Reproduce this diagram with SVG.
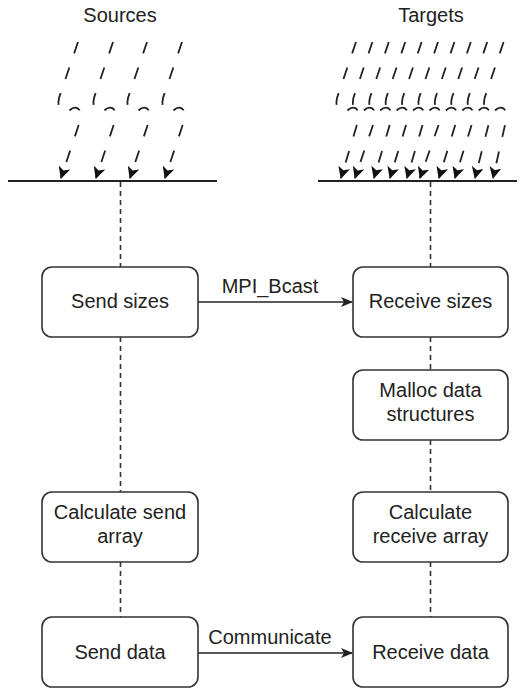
<svg xmlns="http://www.w3.org/2000/svg" width="523" height="689" viewBox="0 0 523 689">
  <style>
    .node rect { fill: #ffffff; stroke: #333333; stroke-width: 1.6; }
    .lbl { font-family: "Liberation Sans", Arial, Helvetica, sans-serif; font-size: 20px; fill: #222222; text-anchor: middle; }
    .life { fill: none; stroke: #333333; stroke-width: 1.6; stroke-dasharray: 5 4; }
    .msg { fill: none; stroke: #222222; stroke-width: 1.6; marker-end: url(#head); }
    .rain { fill: none; stroke: #222222; stroke-width: 1.8; stroke-dasharray: 12 15; marker-end: url(#bighead); }
    .base { stroke: #222222; stroke-width: 2; }
  </style>
  <defs>
    <marker id="head" viewBox="0 0 12 10" refX="11" refY="5" markerWidth="12" markerHeight="10" markerUnits="userSpaceOnUse" orient="auto">
      <path d="M0,0 L12,5 L0,10 L3,5 Z" fill="#222222"/>
    </marker>
    <marker id="bighead" viewBox="0 0 12 12" refX="11" refY="6" markerWidth="12" markerHeight="12" markerUnits="userSpaceOnUse" orient="auto">
      <path d="M0,0 L12,6 L0,12 L3,6 Z" fill="#111111"/>
    </marker>
  </defs>

  <rect width="523" height="689" fill="#ffffff"/>

  <!-- column headings -->
  <g id="heading-sources"><text class="lbl" x="120" y="22">Sources</text></g>
  <g id="heading-targets"><text class="lbl" x="431" y="22">Targets</text></g>

  <g id="connectors">
    <!-- incoming streams onto the source bar -->
    <g id="source-streams">
      <path class="rain" d="M78,42 L59,98 C56,112 66,114 70,110 C75,105 82,108 81,118 L61,178"/>
      <path class="rain" d="M113,42 L94,98 C91,112 101,114 105,110 C110,105 117,108 116,118 L96,178"/>
      <path class="rain" d="M147,42 L128,98 C125,112 135,114 139,110 C144,105 151,108 150,118 L130,178"/>
      <path class="rain" d="M182,42 L163,98 C160,112 170,114 174,110 C179,105 186,108 185,118 L165,178"/>
    </g>
    <!-- incoming streams onto the target bar -->
    <g id="target-streams">
      <path class="rain" d="M356,42 L337,98 C334,112 344,114 348,110 C353,105 360,108 359,118 L341,178"/>
      <path class="rain" d="M372.4,42 L353.4,98 C350.4,112 360.4,114 364.4,110 C369.4,105 376.4,108 375.4,118 L355,178"/>
      <path class="rain" d="M388.8,42 L369.8,98 C366.8,112 376.8,114 380.8,110 C385.8,105 392.8,108 391.8,118 L374,178"/>
      <path class="rain" d="M405.2,42 L386.2,98 C383.2,112 393.2,114 397.2,110 C402.2,105 409.2,108 408.2,118 L390,178"/>
      <path class="rain" d="M421.6,42 L402.6,98 C399.6,112 409.6,114 413.6,110 C418.6,105 425.6,108 424.6,118 L407,178"/>
      <path class="rain" d="M438,42 L419,98 C416,112 426,114 430,110 C435,105 442,108 441,118 L420,178"/>
      <path class="rain" d="M454.4,42 L435.4,98 C432.4,112 442.4,114 446.4,110 C451.4,105 458.4,108 457.4,118 L439,178"/>
      <path class="rain" d="M470.8,42 L451.8,98 C448.8,112 458.8,114 462.8,110 C467.8,105 474.8,108 473.8,118 L455,178"/>
      <path class="rain" d="M487.2,42 L468.2,98 C465.2,112 475.2,114 479.2,110 C484.2,105 491.2,108 490.2,118 L475,178"/>
      <path class="rain" d="M503.6,42 L484.6,98 C481.6,112 491.6,114 495.6,110 C500.6,105 507.6,108 506.6,118 L493,178"/>
    </g>

    <!-- bars -->
    <line class="base" x1="8" y1="181" x2="217" y2="181"/>
    <line class="base" x1="318" y1="181" x2="517" y2="181"/>

    <!-- source lifeline -->
    <line class="life" x1="120.5" y1="182" x2="120.5" y2="267"/>
    <line class="life" x1="120.5" y1="337" x2="120.5" y2="492"/>
    <line class="life" x1="120.5" y1="562" x2="120.5" y2="617"/>
    <!-- target lifeline -->
    <line class="life" x1="430.5" y1="182" x2="430.5" y2="267"/>
    <line class="life" x1="430.5" y1="337" x2="430.5" y2="370"/>
    <line class="life" x1="430.5" y1="440" x2="430.5" y2="492"/>
    <line class="life" x1="430.5" y1="562" x2="430.5" y2="617"/>

    <!-- messages -->
    <path class="msg" d="M198,302 L352,302"/>
    <text class="lbl" x="270" y="293">MPI_Bcast</text>
    <path class="msg" d="M198,653 L352,653"/>
    <text class="lbl" x="270" y="644">Communicate</text>
  </g>

  <g id="send-sizes" class="node">
    <rect x="42" y="267" width="156" height="70" rx="10"/>
    <text class="lbl" x="120" y="308">Send sizes</text>
  </g>
  <g id="receive-sizes" class="node">
    <rect x="353" y="267" width="155" height="70" rx="10"/>
    <text class="lbl" x="430.5" y="308">Receive sizes</text>
  </g>
  <g id="malloc" class="node">
    <rect x="353" y="370" width="155" height="70" rx="10"/>
    <text class="lbl" x="430.5" y="397">Malloc data</text>
    <text class="lbl" x="430.5" y="421">structures</text>
  </g>
  <g id="calc-send" class="node">
    <rect x="42" y="492" width="156" height="70" rx="10"/>
    <text class="lbl" x="120" y="519">Calculate send</text>
    <text class="lbl" x="120" y="543">array</text>
  </g>
  <g id="calc-receive" class="node">
    <rect x="353" y="492" width="155" height="70" rx="10"/>
    <text class="lbl" x="430.5" y="519">Calculate</text>
    <text class="lbl" x="430.5" y="543">receive array</text>
  </g>
  <g id="send-data" class="node">
    <rect x="42" y="617" width="156" height="70" rx="10"/>
    <text class="lbl" x="120" y="659">Send data</text>
  </g>
  <g id="receive-data" class="node">
    <rect x="353" y="617" width="155" height="70" rx="10"/>
    <text class="lbl" x="430.5" y="659">Receive data</text>
  </g>
</svg>
